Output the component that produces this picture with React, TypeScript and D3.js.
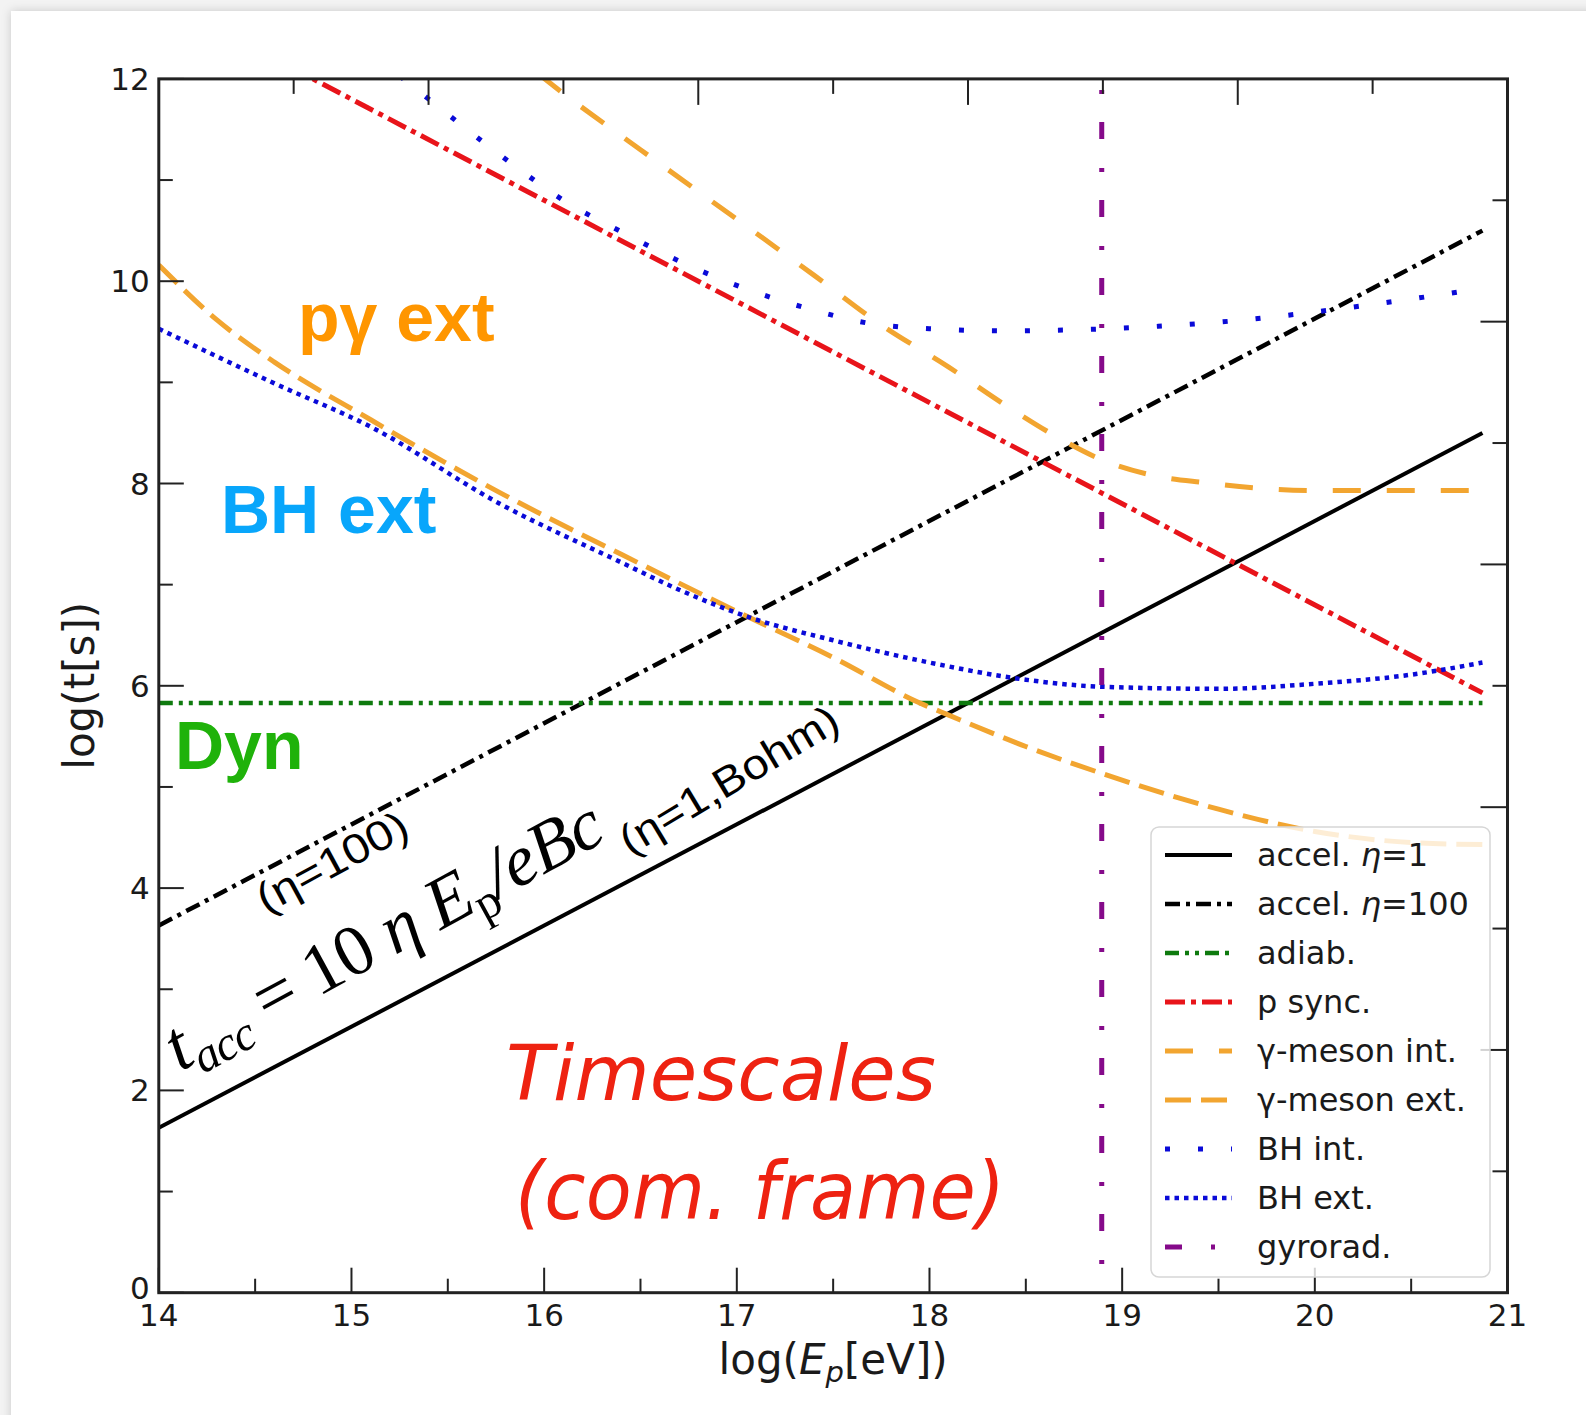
import React from 'react';
import * as d3 from 'd3';

const W = 1586;
const H = 1415;
const plot = { left: 158.8, right: 1507.5, top: 78.9, bottom: 1292.7 };

// axis ticks
const xMajor = [14, 15, 16, 17, 18, 19, 20, 21];
const xMinor = [14.5, 15.5, 16.5, 17.5, 18.5, 19.5, 20.5];
const yMajor = [0, 2, 4, 6, 8, 10, 12];
const yMinor = [1, 3, 5, 7, 9, 11];
// the top and right frames carry their own, unlabeled 10-step ticks
const frameSteps = [1, 2, 3, 4, 5, 6, 7, 8, 9];

// curves: [log E_p, log t]
const accel1 = [[14, 1.63], [20.87, 8.5]];
const accel100 = [[14, 3.63], [20.87, 10.5]];
const adiab = [[14, 5.83], [20.87, 5.83]];
const pSync = [[14, 12.8], [20.87, 5.93]];
const gammaInt = [
  [15.97, 12.05], [16.07, 11.9], [16.5, 11.3], [17.06, 10.53], [17.4, 10.06], [17.74, 9.58],
  [18.1, 9.15], [18.43, 8.73], [18.69, 8.43], [18.9, 8.23], [19.16, 8.08], [19.42, 8.01],
  [20.0, 7.93], [20.87, 7.93],
];
const gammaExt = [
  [14, 10.16], [14.3, 9.62], [14.6, 9.2], [15.1, 8.63], [15.77, 7.91], [16.4, 7.3],
  [17.06, 6.68], [17.5, 6.28], [17.95, 5.83], [18.1, 5.71], [18.5, 5.4], [18.9, 5.13],
  [19.5, 4.78], [20.0, 4.56], [20.5, 4.45], [20.87, 4.43],
];
const bhInt = [
  [15.25, 12.03], [15.5, 11.65], [15.84, 11.15], [16.1, 10.8], [16.41, 10.48], [16.7, 10.2],
  [17.04, 9.93], [17.35, 9.74], [17.7, 9.58], [18.0, 9.53], [18.4, 9.51], [18.92, 9.53],
  [19.59, 9.61], [20.26, 9.76], [20.87, 9.93],
];
const bhExt = [
  [14, 9.53], [14.6, 8.99], [15.1, 8.56], [15.77, 7.8], [16.4, 7.22], [16.7, 6.95],
  [17.06, 6.68], [17.5, 6.45], [18.0, 6.23], [18.5, 6.06], [18.9, 5.99], [19.5, 5.97],
  [20.0, 6.02], [20.5, 6.11], [20.87, 6.23],
];
const gyroE = 18.894;

const C = {
  black: '#000000',
  green: '#0e7a0e',
  red: '#e8141a',
  orange: '#f2a530',
  blue: '#0a0ad8',
  purple: '#850a8a',
};

const styles = {
  accel1: { stroke: C.black, width: 4, dash: 'none' },
  accel100: { stroke: C.black, width: 4.5, dash: '15 6 4 6' },
  adiab: { stroke: C.green, width: 4.5, dash: '14 6 4 6 4 6' },
  pSync: { stroke: C.red, width: 5, dash: '20 6 5 6' },
  gammaInt: { stroke: C.orange, width: 5, dash: '28 26' },
  gammaExt: { stroke: C.orange, width: 5, dash: '26 10' },
  bhInt: { stroke: C.blue, width: 5, dash: '5 28' },
  bhExt: { stroke: C.blue, width: 4.5, dash: '4.5 5' },
  gyro: { stroke: C.purple, width: 5, dash: '17 29 4 28' },
};

const legendItems = [
  { key: 'accel1', text: 'accel. ', eta: '=1' },
  { key: 'accel100', text: 'accel. ', eta: '=100' },
  { key: 'adiab', text: 'adiab.' },
  { key: 'pSync', text: 'p sync.' },
  { key: 'gammaInt', text: 'γ-meson int.' },
  { key: 'gammaExt', text: 'γ-meson ext.' },
  { key: 'bhInt', text: 'BH int.' },
  { key: 'bhExt', text: 'BH ext.' },
  { key: 'gyro', text: 'gyrorad.' },
];

const sans = "'DejaVu Sans', sans-serif";
const bold = "'Liberation Sans', Arial, sans-serif";
const serif = "'Liberation Serif', 'DejaVu Serif', serif";

export default function App() {
  const x = d3.scaleLinear().domain([14, 21]).range([plot.left, plot.right]);
  const y = d3.scaleLinear().domain([0, 12]).range([plot.bottom, plot.top]);
  const xf = d3.scaleLinear().domain([0, 10]).range([plot.left, plot.right]);
  const yf = d3.scaleLinear().domain([0, 10]).range([plot.bottom, plot.top]);

  const line = d3.line<number[]>()
    .x(d => x(d[0]))
    .y(d => y(d[1]))
    .curve(d3.curveMonotoneX);

  const curve = (data: number[][], key: string) => {
    const s = (styles as any)[key];
    return (
      <path d={line(data) || ''} fill="none" stroke={s.stroke} strokeWidth={s.width}
        strokeDasharray={s.dash} strokeLinejoin="round" />
    );
  };

  const tickColor = '#222';
  const legend = { x: 1151, y: 827, w: 339, h: 450, row: 49 };

  return (
    <div style={{ position: 'absolute', left: 0, top: 0 }}>
      <svg width={W} height={H} style={{ display: 'block' }}>
        <defs>
          <filter id="shadow" x="-5%" y="-5%" width="110%" height="110%">
            <feDropShadow dx="0" dy="0" stdDeviation="5" floodColor="#000" floodOpacity="0.18" />
          </filter>
          <clipPath id="plotClip">
            <rect x={plot.left} y={plot.top} width={plot.right - plot.left} height={plot.bottom - plot.top} />
          </clipPath>
        </defs>
        <rect x={0} y={0} width={W} height={H} fill="#f3f3f3" />
        <rect x={11} y={11} width={W + 40} height={H + 40} fill="#fff" filter="url(#shadow)" />

        <g clipPath="url(#plotClip)">
          {curve(accel1, 'accel1')}
          {curve(accel100, 'accel100')}
          {curve(adiab, 'adiab')}
          {curve(pSync, 'pSync')}
          {curve(gammaInt, 'gammaInt')}
          {curve(gammaExt, 'gammaExt')}
          {curve(bhInt, 'bhInt')}
          {curve(bhExt, 'bhExt')}
          <line x1={x(gyroE)} x2={x(gyroE)} y1={y(12)} y2={y(0)} stroke={C.purple}
            strokeWidth={styles.gyro.width} strokeDasharray={styles.gyro.dash} strokeDashoffset={35} />
        </g>

        {/* frame */}
        <rect x={plot.left} y={plot.top} width={plot.right - plot.left} height={plot.bottom - plot.top}
          fill="none" stroke={tickColor} strokeWidth={3} />

        {/* bottom ticks */}
        {xMajor.map(v => (
          <g key={'xM' + v}>
            <line x1={x(v)} x2={x(v)} y1={plot.bottom} y2={plot.bottom - 25} stroke={tickColor} strokeWidth={2} />
            <text x={x(v)} y={plot.bottom + 33} textAnchor="middle" fontFamily={sans} fontSize={31} fill="#1a1a1a">{v}</text>
          </g>
        ))}
        {xMinor.map(v => (
          <line key={'xm' + v} x1={x(v)} x2={x(v)} y1={plot.bottom} y2={plot.bottom - 14} stroke={tickColor} strokeWidth={2} />
        ))}
        {/* left ticks */}
        {yMajor.map(v => (
          <g key={'yM' + v}>
            <line x1={plot.left} x2={plot.left + 25} y1={y(v)} y2={y(v)} stroke={tickColor} strokeWidth={2} />
            <text x={plot.left - 9} y={y(v) + (v === 0 ? 6 : 11)} textAnchor="end" fontFamily={sans} fontSize={31} fill="#1a1a1a">{v}</text>
          </g>
        ))}
        {yMinor.map(v => (
          <line key={'ym' + v} x1={plot.left} x2={plot.left + 14} y1={y(v)} y2={y(v)} stroke={tickColor} strokeWidth={2} />
        ))}
        {/* top and right frame ticks */}
        {frameSteps.map(k => (
          <g key={'f' + k}>
            <line x1={xf(k)} x2={xf(k)} y1={plot.top} y2={plot.top + (k % 2 === 0 ? 26 : 15)} stroke={tickColor} strokeWidth={2} />
            <line x1={plot.right} x2={plot.right - (k % 2 === 0 ? 27 : 15)} y1={yf(k)} y2={yf(k)} stroke={tickColor} strokeWidth={2} />
          </g>
        ))}

        {/* axis labels */}
        <text x={(plot.left + plot.right) / 2} y={1374} textAnchor="middle" fontFamily={sans} fontSize={42} fill="#1a1a1a">
          log(<tspan fontStyle="italic">E</tspan><tspan fontStyle="italic" fontSize={29} dy={8}>p</tspan><tspan dy={-8}>[eV])</tspan>
        </text>
        <text transform={`translate(94,${(plot.top + plot.bottom) / 2}) rotate(-90)`} textAnchor="middle"
          fontFamily={sans} fontSize={42} fill="#1a1a1a">log(t[s])</text>

        {/* annotations */}
        <text x={298} y={341} fontFamily={bold} fontWeight="bold" fontSize={68} fill="#ff9600">pγ ext</text>
        <text x={221} y={533} fontFamily={bold} fontWeight="bold" fontSize={68} fill="#08a6fb">BH ext</text>
        <text x={175} y={769} fontFamily={bold} fontWeight="bold" fontSize={68} fill="#1fb20a">Dyn</text>

        <text transform="translate(180,1072) rotate(-28.5)" fontFamily={serif} fontSize={72} fill="#000"
          textLength={488} lengthAdjust="spacing">
          <tspan fontStyle="italic">t</tspan>
          <tspan fontStyle="italic" fontSize={48} dy={13}>acc</tspan>
          <tspan dy={-13}> = 10 </tspan>
          <tspan fontStyle="italic">η</tspan>
          <tspan fontStyle="italic"> E</tspan>
          <tspan fontSize={48} dy={13}>p</tspan>
          <tspan fontStyle="italic" dy={-13}>/eBc</tspan>
        </text>
        <text transform="translate(630,856) rotate(-31)" fontFamily={bold} fontSize={42} fill="#000"
          textLength={248} lengthAdjust="spacingAndGlyphs">(η=1,Bohm)</text>
        <text transform="translate(266,914) rotate(-28.5)" fontFamily={bold} fontSize={42} fill="#000"
          textLength={166} lengthAdjust="spacingAndGlyphs">(η=100)</text>

        <text x={506} y={1100} fontFamily={sans} fontStyle="italic" fontSize={76} fill="#ee2211"
          textLength={430} lengthAdjust="spacingAndGlyphs">Timescales</text>
        <text x={515} y={1219} fontFamily={sans} fontStyle="italic" fontSize={80} fill="#ee2211"
          textLength={490} lengthAdjust="spacingAndGlyphs">(com. frame)</text>

        {/* legend */}
        <rect x={legend.x} y={legend.y} width={legend.w} height={legend.h} rx={8}
          fill="#fff" fillOpacity={0.8} stroke="#d6d6d6" strokeWidth={1.5} />
        {legendItems.map((it, i) => {
          const s = (styles as any)[it.key];
          const cy = legend.y + 28 + i * legend.row;
          return (
            <g key={it.key}>
              <line x1={1165} x2={1232} y1={cy} y2={cy} stroke={s.stroke} strokeWidth={s.width}
                strokeDasharray={s.dash} />
              <text x={1257} y={cy + 11} fontFamily={sans} fontSize={32} fill="#1a1a1a">
                {it.text}
                {it.eta && <tspan fontStyle="italic">η</tspan>}
                {it.eta && <tspan>{it.eta}</tspan>}
              </text>
            </g>
          );
        })}
      </svg>
    </div>
  );
}
